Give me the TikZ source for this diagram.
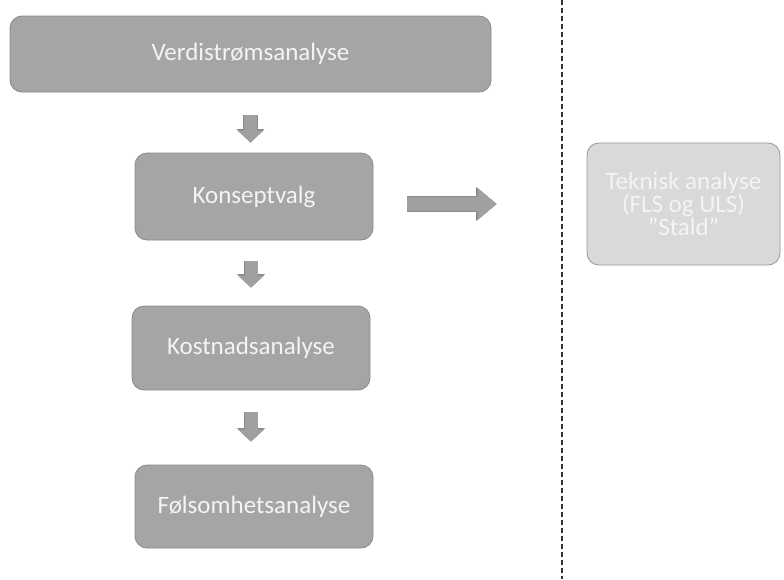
\documentclass[tikz,border=0pt]{standalone}
\usepackage{fontspec}
\setmainfont{Carlito}
\usepackage{xcolor}
\usetikzlibrary{arrows.meta, calc}

\definecolor{boksgraa}{HTML}{A5A5A5}
\definecolor{kantgraa}{HTML}{8A8A8A}
\definecolor{lysgraa}{HTML}{D9D9D9}
\definecolor{pilgraa}{HTML}{A0A0A0}
\definecolor{tekstlys}{HTML}{F4F4F4}

\tikzset{
  boks/.style={draw=kantgraa, fill=boksgraa, rounded corners=12pt, line width=0.8pt,
    text=tekstlys, align=center, inner sep=0pt,
    font=\fontsize{25}{23}\selectfont},
  lysboks/.style={boks, fill=lysgraa, draw=kantgraa!90},
  nedpil/.style={draw=pilgraa, line width=13pt,
    -{Triangle[width=26pt,length=12pt,line width=0pt]},
    preaction={draw=kantgraa, line width=14.6pt,
      arrows=-{Triangle[width=28pt,length=13.5pt,line width=0pt]}}},
  sidepil/.style={draw=pilgraa, line width=14pt,
    -{Triangle[width=32pt,length=19pt,line width=0pt]},
    preaction={draw=kantgraa, line width=15.6pt,
      arrows=-{Triangle[width=34pt,length=20.5pt,line width=0pt]}}},
  skille/.style={draw=black!80, line width=1.6pt, dash pattern=on 5pt off 3pt}
}

\begin{document}
\begin{tikzpicture}[x=1pt, y=-1pt]
    \useasboundingbox (0,0) rectangle (784,579);

    % Venstre side: prosessen
    \node[boks, minimum width=481pt, minimum height=76pt] (verdi) at (250.5,54) {Verdistrømsanalyse};
    \node[boks, minimum width=238pt, minimum height=87pt] (konsept) at (254,196.5) {Konseptvalg};
    \node[boks, minimum width=238pt, minimum height=84pt] (kostnad) at (251,348) {Kostnadsanalyse};
    \node[boks, minimum width=238pt, minimum height=83pt] (folsom) at (254,506.5) {Følsomhetsanalyse};

    % Hoyre side
    \node[lysboks, minimum width=193pt, minimum height=122pt] (teknisk) at (683.5,204) {Teknisk analyse\\(FLS og ULS)\\\textquotedblright Stald\textquotedblright};

    % Piler
    \draw[nedpil, shorten <=23pt, shorten >=10pt] (verdi.south) -- (verdi.south |- konsept.north);
    \draw[nedpil, shorten <=21pt, shorten >=18pt] (kostnad.north |- konsept.south) -- (kostnad.north);
    \draw[nedpil, shorten <=22pt, shorten >=23pt] (kostnad.south) -- (kostnad.south |- folsom.north);
    \draw[sidepil, shorten <=34pt, shorten >=90pt] (konsept.east |- teknisk.west) -- (teknisk.west);

    % Skillelinje
    \coordinate (topp) at (562,0);
    \coordinate (bunn) at (562,579);
    \draw[skille] (topp) -- (bunn);

\end{tikzpicture}
\end{document}
